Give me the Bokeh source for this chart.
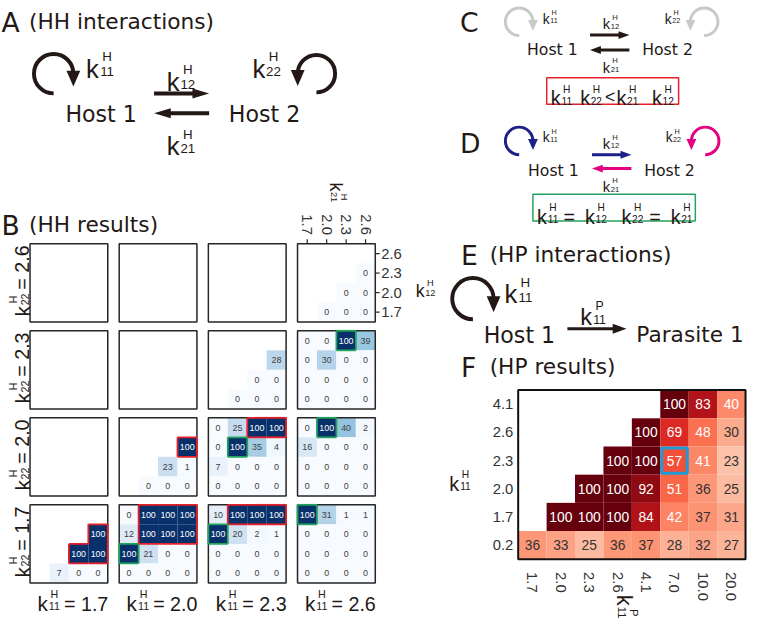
import math
from bokeh.plotting import figure
from bokeh.models import Range1d, ColumnDataSource
from bokeh.core.properties import value, field
from bokeh.embed import file_html
from bokeh.resources import INLINE
from bokeh.palettes import Blues9, Reds9

N = None

# ---------------- panel B data (HH results) ----------------
HH_K = ["1.7", "2.0", "2.3", "2.6"]            # k11 (block columns) and k21 (cell columns)
HH_ROWS_K22 = ["2.6", "2.3", "2.0", "1.7"]     # block rows, top -> bottom
HH_ROWS_K12 = ["2.6", "2.3", "2.0", "1.7"]     # cell rows, top -> bottom

hh_k11_26_k22_26 = [[N, N, N, N], [N, N, N, 0], [N, N, 0, 0], [N, 0, 0, 0]]
hh_k11_23_k22_23 = [[N, N, N, N], [N, N, N, 28], [N, N, 0, 0], [N, 0, 0, 0]]
hh_k11_26_k22_23 = [[0, 0, 100, 39], [0, 30, 0, 0], [0, 0, 0, 0], [0, 0, 0, 0]]
hh_k11_20_k22_20 = [[N, N, N, N], [N, N, N, 100], [N, N, 23, 1], [N, 0, 0, 0]]
hh_k11_23_k22_20 = [[0, 25, 100, 100], [0, 100, 35, 4], [7, 0, 0, 0], [0, 0, 0, 0]]
hh_k11_26_k22_20 = [[0, 100, 40, 2], [16, 0, 0, 0], [0, 0, 0, 0], [0, 0, 0, 0]]
hh_k11_17_k22_17 = [[N, N, N, N], [N, N, N, 100], [N, N, 100, 100], [N, 7, 0, 0]]
hh_k11_20_k22_17 = [[0, 100, 100, 100], [12, 100, 100, 100], [100, 21, 0, 0], [0, 0, 0, 0]]
hh_k11_23_k22_17 = [[10, 100, 100, 100], [100, 20, 2, 1], [0, 0, 0, 0], [0, 0, 0, 0]]
hh_k11_26_k22_17 = [[100, 31, 1, 1], [0, 0, 0, 0], [0, 0, 0, 0], [0, 0, 0, 0]]

HH_BLOCKS = {
    ("2.6", "2.6"): hh_k11_26_k22_26,
    ("2.3", "2.3"): hh_k11_23_k22_23,
    ("2.6", "2.3"): hh_k11_26_k22_23,
    ("2.0", "2.0"): hh_k11_20_k22_20,
    ("2.3", "2.0"): hh_k11_23_k22_20,
    ("2.6", "2.0"): hh_k11_26_k22_20,
    ("1.7", "1.7"): hh_k11_17_k22_17,
    ("2.0", "1.7"): hh_k11_20_k22_17,
    ("2.3", "1.7"): hh_k11_23_k22_17,
    ("2.6", "1.7"): hh_k11_26_k22_17,
}

# ---------------- panel F data (HP results) ----------------
HP_K11P = ["1.7", "2.0", "2.3", "2.6", "4.1", "7.0", "10.0", "20.0"]
HP_K11H = ["4.1", "2.6", "2.3", "2.0", "1.7", "0.2"]
hp_k11h_41 = [N, N, N, N, N, 100, 83, 40]
hp_k11h_26 = [N, N, N, N, 100, 69, 48, 30]
hp_k11h_23 = [N, N, N, 100, 100, 57, 41, 23]
hp_k11h_20 = [N, N, 100, 100, 92, 51, 36, 25]
hp_k11h_17 = [N, 100, 100, 100, 84, 42, 37, 31]
hp_k11h_02 = [36, 33, 25, 36, 37, 28, 32, 27]
HP_ROWS = [hp_k11h_41, hp_k11h_26, hp_k11h_23, hp_k11h_20, hp_k11h_17, hp_k11h_02]
HP_MARK = ("2.3", "7.0")

# ---------------- canvas ----------------
W, H = 747, 622
X0, X1 = 1.0, 760.0
RY0, RY1 = 3.0, 632.0
SC = W / (X1 - X0)


def Y(ry):
    return 638.0 - ry


p = figure(width=W, height=H, x_range=Range1d(X0, X1), y_range=Range1d(Y(RY1), Y(RY0)),
           output_backend="svg", toolbar_location=None, min_border=0,
           x_axis_type=None, y_axis_type=None, background_fill_color="white")
p.outline_line_color = None
p.grid.grid_line_color = None

INK = "#231815"
JP = "DejaVu Sans"
AR = "Liberation Sans"
BLUE = "#1d2088"
PINK = "#e4007f"
GRAY = "#c9c9c9"
RED = "#e8202a"
GREEN = "#22a35e"

TXT = {}
SEG = dict(x0=[], y0=[], x1=[], y1=[], c=[], w=[])
HEADS = dict(xs=[], ys=[], c=[])


def T(x, y, s, size, color=INK, font=AR, angle=0.0, align="left", base="alphabetic"):
    d = TXT.setdefault((font, align, base), dict(x=[], y=[], text=[], size=[], tcolor=[], angle=[]))
    d["x"].append(x)
    d["y"].append(Y(y))
    d["text"].append(s)
    d["size"].append("%.1fpx" % (size * SC))
    d["tcolor"].append(color)
    d["angle"].append(angle)


def klabel(x, y, F, sup, sub, ang=0.0, color=INK, tail=None, tail_u=0.0, tail_F=None):
    th = math.radians(ang)
    ux, uy = math.cos(th), -math.sin(th)
    vx, vy = -math.sin(th), -math.cos(th)

    def at(u, v):
        return x + u * ux + v * vx, y + u * uy + v * vy
    T(*at(0, 0), "k", F, color, AR, th)
    Fs = 0.52 * F
    T(*at(0.82 * F, 0.46 * F), sup, Fs, color, AR, th, "center")
    T(*at(0.82 * F, -0.12 * F), sub, Fs, color, AR, th, "center")
    if tail:
        T(*at(tail_u, 0), tail, tail_F or F, color, AR, th)


def seg(x0, y0, x1, y1, c, w):
    SEG["x0"].append(x0); SEG["y0"].append(Y(y0))
    SEG["x1"].append(x1); SEG["y1"].append(Y(y1))
    SEG["c"].append(c); SEG["w"].append(w)


def head(tx, ty, ux, uy, hl, hw, c):
    bx, by = tx - ux * hl, ty - uy * hl
    xs = [tx, bx - uy * hw, bx + uy * hw]
    ys = [ty, by + ux * hw, by - ux * hw]
    HEADS["xs"].append(xs)
    HEADS["ys"].append([Y(v) for v in ys])
    HEADS["c"].append(c)


def arrow(x0, y0, x1, y1, lw, c, hl, hw):
    L = math.hypot(x1 - x0, y1 - y0)
    ux, uy = (x1 - x0) / L, (y1 - y0) / L
    seg(x0, y0, x1 - ux * (hl - 2), y1 - uy * (hl - 2), c, lw)
    head(x1, y1, ux, uy, hl, hw, c)


def loop(cx, cy, r, side, c, lw, hl, hw):
    if side == "right":
        p.arc(x=[cx], y=[Y(cy)], radius=r, start_angle=0.0, end_angle=1.5 * math.pi,
              direction="anticlock", line_color=c, line_width=lw * SC)
        head(cx + r, cy + 0.65 * r, 0, 1, hl, hw, c)
    else:
        p.arc(x=[cx], y=[Y(cy)], radius=r, start_angle=-0.5 * math.pi, end_angle=math.pi,
              direction="anticlock", line_color=c, line_width=lw * SC)
        head(cx - r, cy + 0.65 * r, 0, 1, hl, hw, c)


def cmap(pal, t):
    pal = list(pal)[::-1]
    t = max(0.0, min(1.0, t))
    pos = t * (len(pal) - 1)
    i = min(int(pos), len(pal) - 2)
    f = pos - i
    a = [int(pal[i][k:k + 2], 16) for k in (1, 3, 5)]
    b = [int(pal[i + 1][k:k + 2], 16) for k in (1, 3, 5)]
    return "#%02x%02x%02x" % tuple(round(a[k] + (b[k] - a[k]) * f) for k in range(3))


# ================= Panel A =================
T(2, 25, "A", 27, INK, JP)
T(30, 24, "(HH interactions)", 22, INK, JP)
loop(55, 77, 20, "right", INK, 4, 16, 7)
loop(322, 77, 19, "left", INK, 4, 16, 7)
klabel(88, 72, 26, "H", "11")
klabel(257, 72, 26, "H", "22")
T(67, 118, "Host 1", 22.5, INK, JP)
T(233, 118, "Host 2", 22.5, INK, JP)
arrow(157, 97, 213, 97, 4, INK, 17, 5)
arrow(213, 117, 157, 117, 4, INK, 17, 5)
klabel(170, 85, 26, "H", "12")
klabel(170, 150, 26, "H", "21")

# ================= Panel C =================
T(468, 25, "C", 27, INK, JP)
loop(528, 24.5, 14, "right", GRAY, 3, 11, 5)
loop(716, 24.5, 14, "left", GRAY, 3, 11, 5)
klabel(552, 22, 14, "H", "11")
klabel(676, 22, 14, "H", "22")
T(536, 53, "Host 1", 16, INK, JP)
T(653, 53, "Host 2", 16, INK, JP)
arrow(600, 38, 640, 38, 3, INK, 11, 4)
arrow(640, 53, 600, 53, 3, INK, 11, 4)
klabel(613, 27, 15, "H", "12")
klabel(613, 71, 15, "H", "21")
p.rect(x=[(556 + 690) / 2], y=[Y((81 + 108) / 2)], width=690 - 556, height=108 - 81,
       fill_color=None, line_color=RED, line_width=1.5)
klabel(560, 102, 20, "H", "11")
klabel(590, 102, 20, "H", "22")
T(620.5, 101, "<", 18, INK, AR, align="center")
klabel(627, 102, 20, "H", "21")
klabel(663, 102, 20, "H", "12")

# ================= Panel D =================
T(468, 148, "D", 27, INK, JP)
loop(528, 145, 14, "right", BLUE, 3, 11, 5)
loop(717, 145, 14, "left", PINK, 3, 11, 5)
klabel(552, 142, 14, "H", "11")
klabel(677, 142, 14, "H", "22")
T(537, 175, "Host 1", 16, INK, JP)
T(655, 175, "Host 2", 16, INK, JP)
arrow(602, 159, 642, 159, 3, BLUE, 11, 4)
arrow(642, 173, 602, 173, 3, PINK, 11, 4)
klabel(613, 148, 15, "H", "12")
klabel(613, 192, 15, "H", "21")
p.rect(x=[(542 + 707) / 2], y=[Y((199 + 226) / 2)], width=707 - 542, height=226 - 199,
       fill_color=None, line_color=GREEN, line_width=1.5)
klabel(546, 222, 20, "H", "11")
T(579, 222, "=", 20, INK, AR, align="center")
klabel(595, 222, 20, "H", "12")
klabel(632, 222, 20, "H", "22")
T(666, 222, "=", 20, INK, AR, align="center")
klabel(682, 222, 20, "H", "21")

# ================= Panel E =================
T(469, 261, "E", 27, INK, JP)
T(498, 260, "(HP interactions)", 22, INK, JP)
loop(481, 304.5, 21, "right", INK, 4, 16, 7)
klabel(513, 300, 26, "H", "11")
T(492, 341, "Host 1", 22.5, INK, JP)
arrow(577, 335, 637, 335, 3, INK, 14, 5)
klabel(590, 323, 24, "P", "11")
T(647, 341, "Parasite 1", 22, INK, JP)

# ================= Panel B =================
T(2, 231, "B", 27, INK, JP)
T(30, 230, "(HH results)", 22, INK, JP)
BOX = 79.0
CELL = BOX / 4
COL_L = [31 + 90.6 * i for i in range(4)]
ROW_T = [249 + 88 * i for i in range(4)]

cells = dict(x=[], y=[], fc=[])
ctext = dict(x=[], y=[], text=[], tcolor=[])
boxes = dict(x=[], y=[])
for ri, k22 in enumerate(HH_ROWS_K22):
    for ci, k11 in enumerate(HH_K):
        bx, by = COL_L[ci], ROW_T[ri]
        boxes["x"].append(bx + BOX / 2)
        boxes["y"].append(Y(by + BOX / 2))
        blk = HH_BLOCKS.get((k11, k22))
        if blk is None:
            continue
        red = [[False] * 4 for _ in range(4)]
        grn = [[False] * 4 for _ in range(4)]
        for i, k12 in enumerate(HH_ROWS_K12):
            for j, k21 in enumerate(HH_K):
                v = blk[i][j]
                if v is None:
                    continue
                cx = bx + CELL * (j + 0.5)
                cy = by + CELL * (i + 0.5)
                cells["x"].append(cx)
                cells["y"].append(Y(cy))
                cells["fc"].append(cmap(Blues9, v / 100.0))
                ctext["x"].append(cx)
                ctext["y"].append(Y(cy))
                ctext["text"].append(str(v))
                ctext["tcolor"].append("white" if v >= 60 else "#404040")
                if k11 == k12 and k22 == k21:
                    grn[i][j] = True
                elif v == 100 and round(float(k11) * float(k22), 6) < round(float(k21) * float(k12), 6):
                    red[i][j] = True
        for mask, col in ((red, RED), (grn, GREEN)):
            for i in range(4):
                for j in range(4):
                    if not mask[i][j]:
                        continue
                    x0 = bx + CELL * j
                    x1 = x0 + CELL
                    y0 = by + CELL * i
                    y1 = y0 + CELL
                    if i == 0 or not mask[i - 1][j]:
                        seg(x0, y0, x1, y0, col, 1.8)
                    if i == 3 or not mask[i + 1][j]:
                        seg(x0, y1, x1, y1, col, 1.8)
                    if j == 0 or not mask[i][j - 1]:
                        seg(x0, y0, x0, y1, col, 1.8)
                    if j == 3 or not mask[i][j + 1]:
                        seg(x1, y0, x1, y1, col, 1.8)

p.rect(x="x", y="y", width=CELL, height=CELL, fill_color="fc", line_color=None,
       source=ColumnDataSource(cells))
p.text(x="x", y="y", text="text", text_color="tcolor", source=ColumnDataSource(ctext),
       text_font=value(AR), text_font_size="%.1fpx" % (9 * SC), text_align="center",
       text_baseline="middle")
p.rect(x="x", y="y", width=BOX, height=BOX, fill_color=None, line_color="#262626",
       line_width=1.5, source=ColumnDataSource(boxes))

# row / column labels of B
for ri, k22 in enumerate(HH_ROWS_K22):
    cy = ROW_T[ri] + BOX / 2
    klabel(23, cy + 34, 21, "H", "22", ang=90, tail="= " + k22, tail_u=27, tail_F=20)
for ci, k11 in enumerate(HH_K):
    cx = COL_L[ci] + BOX / 2
    klabel(cx - 32, 613, 21, "H", "11", tail="= " + k11, tail_u=27, tail_F=20)

# axes of top-right block
tbx, tby = COL_L[3], ROW_T[0]
for j, k21 in enumerate(HH_K):
    cx = tbx + CELL * (j + 0.5)
    seg(cx, tby - 4.5, cx, tby, "#262626", 1.2)
    T(cx, tby - 9, k21, 15, "#333333", AR, -math.pi / 2, "right", "middle")
for i, k12 in enumerate(HH_ROWS_K12):
    cy = tby + CELL * (i + 0.5)
    seg(tbx + BOX, cy, tbx + BOX + 4.5, cy, "#262626", 1.2)
    T(tbx + BOX + 6, cy, k12, 15, "#333333", AR, 0, "left", "middle")
klabel(342, 187, 18, "H", "21", ang=-90)
klabel(423, 297, 18, "H", "12")

# ================= Panel F =================
T(469, 374, "F", 27, INK, JP)
T(498, 373, "(HP results)", 22, INK, JP)
FX0, FY0, FW, FH = 527.0, 397.0, 231.0, 171.0
CW, CH = FW / len(HP_K11P), FH / len(HP_K11H)
hcells = dict(x=[], y=[], fc=[])
htext = dict(x=[], y=[], text=[], tcolor=[])
for i, row in enumerate(HP_ROWS):
    for j, v in enumerate(row):
        if v is None:
            continue
        cx = FX0 + CW * (j + 0.5)
        cy = FY0 + CH * (i + 0.5)
        hcells["x"].append(cx)
        hcells["y"].append(Y(cy))
        hcells["fc"].append(cmap(Reds9, v / 100.0))
        htext["x"].append(cx)
        htext["y"].append(Y(cy))
        htext["text"].append(str(v))
        htext["tcolor"].append("white" if v >= 40 else "#333333")
p.rect(x="x", y="y", width=CW, height=CH, fill_color="fc", line_color=None,
       source=ColumnDataSource(hcells))
p.text(x="x", y="y", text="text", text_color="tcolor", source=ColumnDataSource(htext),
       text_font=value(AR), text_font_size="%.1fpx" % (14 * SC), text_align="center",
       text_baseline="middle")
mi, mj = HP_K11H.index(HP_MARK[0]), HP_K11P.index(HP_MARK[1])
p.rect(x=[FX0 + CW * (mj + 0.5)], y=[Y(FY0 + CH * (mi + 0.5))], width=CW - 3, height=CH - 3,
       fill_color=None, line_color="#1e9ad6", line_width=3)
p.rect(x=[FX0 + FW / 2], y=[Y(FY0 + FH / 2)], width=FW, height=FH, fill_color=None,
       line_color="#111111", line_width=2)
for i, lbl in enumerate(HP_K11H):
    T(FX0 - 5, FY0 + CH * (i + 0.5), lbl, 15, "#333333", AR, 0, "right", "middle")
for j, lbl in enumerate(HP_K11P):
    T(FX0 + CW * (j + 0.5), FY0 + FH + 13, lbl, 15, "#333333", AR, -math.pi / 2, "left", "middle")
klabel(457, 492, 20, "H", "11")
klabel(635, 604, 22, "P", "11", ang=-90)

# ---------------- render collected primitives ----------------
p.segment(x0="x0", y0="y0", x1="x1", y1="y1", line_color="c", line_width="w",
          line_cap="butt", source=ColumnDataSource(SEG))
p.patches(xs="xs", ys="ys", fill_color="c", line_color=None, source=ColumnDataSource(HEADS))
for (font, align, base), d in TXT.items():
    p.text(x="x", y="y", text="text", angle="angle", text_color=field("tcolor"),
           text_font_size=field("size"), text_font=value(font), text_align=align,
           text_baseline=base, source=ColumnDataSource(d))

open("out.html", "w").write(file_html(p, INLINE))
